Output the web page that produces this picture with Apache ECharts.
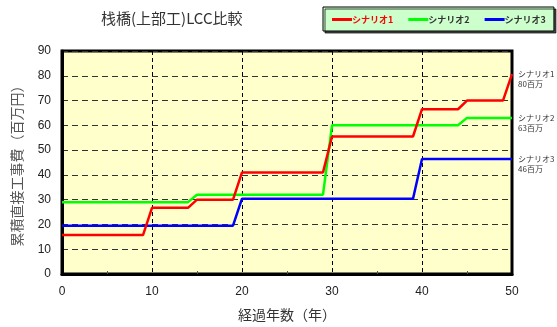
<!DOCTYPE html>
<html>
<head>
<meta charset="utf-8">
<script src="https://cdn.jsdelivr.net/npm/echarts@6/dist/echarts.min.js"></script>
<style>
  html, body { margin: 0; padding: 0; background: #fff; }
  #chart { width: 557px; height: 327px; }
</style>
</head>
<body>
<div id="chart"></div>
<script>
// 経過年数 0..50
var years = [];
for (var i = 0; i <= 50; i++) years.push(i);

var names = ['シナリオ1', 'シナリオ2', 'シナリオ3'];
var endTexts = ['80百万', '63百万', '46百万'];
var colors = ['#ff0000', '#00ff00', '#0000ff'];

// 累積直接工事費（百万円）
var scenario1 = [
  15.7, 15.7, 15.7, 15.7, 15.7, 15.7, 15.7, 15.7, 15.7, 15.7,
  26.7, 26.7, 26.7, 26.7, 26.7,
  30, 30, 30, 30, 30,
  41, 41, 41, 41, 41, 41, 41, 41, 41, 41,
  55.5, 55.5, 55.5, 55.5, 55.5, 55.5, 55.5, 55.5, 55.5, 55.5,
  66.5, 66.5, 66.5, 66.5, 66.5,
  70, 70, 70, 70, 70,
  80.7
];
var scenario2 = [
  29, 29, 29, 29, 29, 29, 29, 29, 29, 29, 29, 29, 29, 29, 29,
  32, 32, 32, 32, 32, 32, 32, 32, 32, 32, 32, 32, 32, 32, 32,
  60, 60, 60, 60, 60, 60, 60, 60, 60, 60, 60, 60, 60, 60, 60,
  63, 63, 63, 63, 63, 63
];
var scenario3 = [
  19.5, 19.5, 19.5, 19.5, 19.5, 19.5, 19.5, 19.5, 19.5, 19.5,
  19.5, 19.5, 19.5, 19.5, 19.5, 19.5, 19.5, 19.5, 19.5, 19.5,
  30.4, 30.4, 30.4, 30.4, 30.4, 30.4, 30.4, 30.4, 30.4, 30.4,
  30.4, 30.4, 30.4, 30.4, 30.4, 30.4, 30.4, 30.4, 30.4, 30.4,
  46.4, 46.4, 46.4, 46.4, 46.4, 46.4, 46.4, 46.4, 46.4, 46.4, 46.4
];
var allData = [scenario1, scenario2, scenario3];

var font = '"Noto Sans CJK JP", "Noto Sans", sans-serif';
var chart = echarts.init(document.getElementById('chart'));

var series = allData.map(function (vals, k) {
  return {
    name: names[k],
    type: 'line',
    data: years.map(function (y, j) { return [y, vals[j]]; }),
    showSymbol: false,
    symbol: 'none',
    lineStyle: { color: colors[k], width: 2.5 },
    itemStyle: { color: colors[k] },
    endLabel: {
      show: true,
      formatter: names[k] + '\n' + endTexts[k],
      fontFamily: font,
      fontSize: 8,
      lineHeight: 10,
      color: '#333',
      align: 'left',
      verticalAlign: 'top',
      offset: [-2, -5]
    },
    z: 3 - k
  };
});

chart.setOption({
  animation: false,
  title: {
    text: '栈橋(上部工)LCC比較',
    left: 96, top: 6,
    textStyle: { fontFamily: font, fontSize: 15, fontWeight: 'normal', color: '#333' }
  },
  legend: {
    left: 323, top: 7,
    padding: [8, 8, 7, 9],
    itemWidth: 20, itemHeight: 3, itemGap: 15,
    icon: 'rect',
    backgroundColor: '#ccffcc',
    borderColor: '#000', borderWidth: 1,
    shadowColor: 'rgba(0,0,0,0.7)', shadowOffsetX: 2, shadowOffsetY: 2, shadowBlur: 0,
    textStyle: { fontFamily: font, fontSize: 9, fontWeight: 'bold', color: '#333', padding: [0, 0, 0, -5] },
    data: [
      { name: names[0], textStyle: { color: '#ff0000' } },
      { name: names[1] },
      { name: names[2] }
    ]
  },
  grid: {
    left: 62, right: 45, top: 51, bottom: 51,
    show: true,
    backgroundColor: '#ffffcc',
    borderColor: '#000', borderWidth: 3
  },
  xAxis: {
    type: 'value', min: 0, max: 50, interval: 10,
    name: '経過年数（年）', nameLocation: 'middle', nameGap: 34,
    nameTextStyle: { fontFamily: font, fontSize: 14, color: '#333' },
    axisLine: { show: true, lineStyle: { color: '#000', width: 3 } },
    axisTick: { show: false, inside: true },
    minorTick: { show: true, splitNumber: 2, length: 3, lineStyle: { color: '#555' } },
    axisLabel: { fontFamily: 'Liberation Sans, Arial', fontSize: 12, color: '#222', margin: 12 },
    splitLine: { show: true, lineStyle: { color: '#000', type: [4, 3], width: 1 } }
  },
  yAxis: {
    type: 'value', min: 0, max: 90, interval: 10,
    name: '累積直接工事費（百万円）', nameLocation: 'middle', nameGap: 38, nameRotate: 90,
    nameTextStyle: { fontFamily: font, fontSize: 14, color: '#555' },
    axisLine: { show: true, lineStyle: { color: '#000', width: 3 } },
    axisTick: { show: false },
    axisLabel: { fontFamily: 'Liberation Sans, Arial', fontSize: 12, color: '#222', margin: 11 },
    splitLine: { show: true, lineStyle: { color: '#333', type: [6, 4], width: 1 } }
  },
  series: series
});
</script>
</body>
</html>
